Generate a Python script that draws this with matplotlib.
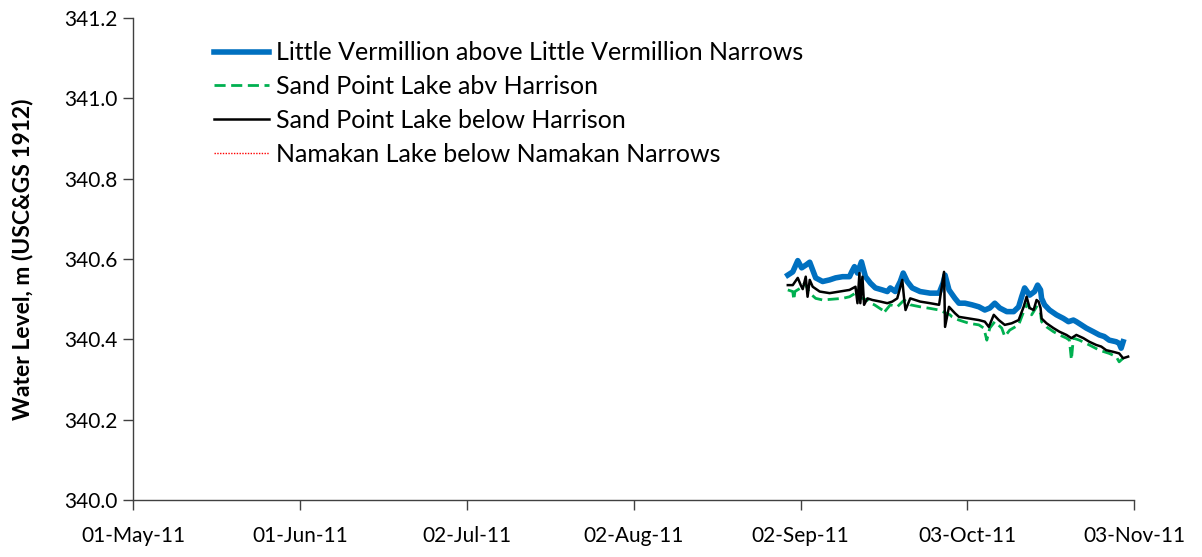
import matplotlib
matplotlib.use("Agg")
import matplotlib.pyplot as plt
import matplotlib.dates as mdates
import pandas as pd

plt.rcParams['font.family'] = ['Lato', 'DejaVu Sans']

base_date = "2011-08-31"

# Little Vermillion above Little Vermillion Narrows (day offset from 31-Aug-11, water level m)
lv_day = [-0.37, 0.55, 1.48, 2.2, 3.0, 3.70, 4.81, 6.10, 7.39, 8.50, 9.80, 11.09, 11.5, 12.01,
          12.57, 13.31, 14.05, 14.97, 15.90, 17.19, 18.11, 18.67, 19.59, 20.52, 21.07, 21.81,
          22.74, 24.21, 26.06, 27.73, 28.47, 28.84, 29.57, 30.68, 31.42, 32.53, 33.83, 35.12,
          36.23, 37.15, 38.08, 39.00, 40.30, 41.59, 42.51, 43.07, 43.62, 44.55, 45.47, 46.03,
          46.58, 46.77, 47.32, 48.24, 49.54, 50.83, 51.76, 52.68, 53.23, 54.16, 55.08, 56.38,
          57.49, 58.41, 59.33, 60.63, 61.18, 61.55, 61.92]
lv_val = [340.560, 340.568, 340.596, 340.578, 340.585, 340.592, 340.553, 340.544, 340.548,
          340.553, 340.556, 340.556, 340.568, 340.581, 340.565, 340.593, 340.556, 340.540,
          340.528, 340.523, 340.519, 340.528, 340.519, 340.544, 340.565, 340.544, 340.528,
          340.519, 340.515, 340.515, 340.540, 340.560, 340.523, 340.502, 340.490, 340.490,
          340.486, 340.481, 340.473, 340.478, 340.490, 340.478, 340.469, 340.469, 340.481,
          340.506, 340.528, 340.510, 340.519, 340.535, 340.523, 340.502, 340.486, 340.473,
          340.461, 340.452, 340.444, 340.448, 340.444, 340.436, 340.428, 340.419, 340.411,
          340.407, 340.398, 340.394, 340.390, 340.378, 340.394]

# Sand Point Lake abv Harrison
spa_day = [-0.37, 0.55, 0.75, 0.95, 2.03, 2.77, 3.70, 4.81, 6.10, 7.95, 9.80, 11.09, 12.20,
           13.49, 14.42, 14.97, 15.71, 17.19, 17.4, 18.67, 19.96, 21.26, 22.37, 24.21, 26.06,
           27.73, 29.76, 30.13, 30.68, 31.42, 33.27, 35.12, 36.04, 36.60, 37.15, 38.08, 39.37,
           39.93, 40.85, 42.51, 43.44, 44.18, 44.92, 45.84, 46.58, 46.77, 47.69, 48.98, 50.09,
           51.39, 51.94, 52.31, 52.68, 53.79, 55.64, 57.49, 59.33, 60.63, 61.18, 61.92]
spa_val = [340.523, 340.519, 340.498, 340.519, 340.528, 340.540, 340.515, 340.502, 340.498,
           340.500, 340.502, 340.506, 340.515, 340.502, 340.498, 340.490, 340.486, 340.473,
           340.465, 340.486, 340.481, 340.498, 340.486, 340.481, 340.477, 340.473, 340.461,
           340.456, 340.452, 340.448, 340.440, 340.436, 340.428, 340.398, 340.428, 340.444,
           340.428, 340.407, 340.423, 340.436, 340.469, 340.490, 340.461, 340.481, 340.465,
           340.444, 340.431, 340.419, 340.411, 340.403, 340.398, 340.349, 340.403, 340.398,
           340.386, 340.373, 340.365, 340.357, 340.344, 340.353]

# Sand Point Lake below Harrison
spb_day = [-0.37, 0.55, 1.48, 2.03, 2.4, 2.96, 3.3, 3.7, 4.25, 5.55, 7.39, 9.24, 11.09, 12.20,
           12.57, 12.94, 13.10, 13.49, 13.8, 14.42, 15.34, 16.82, 18.11, 19.04, 19.96, 20.89,
           21.26, 21.5, 22.37, 24.21, 26.06, 27.73, 28.65, 28.84, 29.57, 30.68, 31.42, 33.27,
           35.12, 36.23, 36.97, 37.89, 38.82, 39.93, 41.22, 42.51, 43.44, 43.99, 44.55, 45.29,
           45.84, 46.21, 46.58, 46.77, 47.69, 48.98, 50.09, 51.39, 52.31, 53.23, 54.53, 55.64,
           56.93, 57.86, 58.78, 60.07, 61.18, 61.92, 62.85]
spb_val = [340.535, 340.535, 340.553, 340.535, 340.525, 340.556, 340.506, 340.548, 340.531,
           340.519, 340.515, 340.519, 340.523, 340.531, 340.490, 340.565, 340.490, 340.556,
           340.486, 340.502, 340.498, 340.494, 340.490, 340.494, 340.502, 340.548, 340.498,
           340.473, 340.502, 340.494, 340.490, 340.486, 340.568, 340.431, 340.481, 340.465,
           340.456, 340.452, 340.448, 340.444, 340.431, 340.461, 340.448, 340.436, 340.440,
           340.448, 340.481, 340.506, 340.478, 340.473, 340.498, 340.494, 340.478, 340.452,
           340.440, 340.428, 340.419, 340.411, 340.403, 340.411, 340.403, 340.394, 340.386,
           340.382, 340.373, 340.369, 340.365, 340.353, 340.357]

# Namakan Lake below Namakan Narrows (no data shown in this period)
nam_day = []
nam_val = []

x_ticks = ["2011-05-01", "2011-06-01", "2011-07-02", "2011-08-02", "2011-09-02",
           "2011-10-03", "2011-11-03"]
y_ticks = [340.0, 340.2, 340.4, 340.6, 340.8, 341.0, 341.2]

labels = ["Little Vermillion above Little Vermillion Narrows",
          "Sand Point Lake abv Harrison",
          "Sand Point Lake below Harrison",
          "Namakan Lake below Namakan Narrows"]


def to_dates(days):
    return pd.Timestamp(base_date) + pd.to_timedelta(days, unit="D")


fig = plt.figure(figsize=(12.02, 5.57), dpi=100)
ax = fig.add_axes([0.1107, 0.1023, 0.833, 0.8654])

ax.plot(to_dates(lv_day), lv_val, color="#0070C0", lw=4.0, label=labels[0],
        solid_joinstyle="round", zorder=2)
ax.plot(to_dates(spa_day), spa_val, color="#00B050", lw=2.0, ls=(0, (4, 2)),
        label=labels[1], zorder=3)
ax.plot(to_dates(spb_day), spb_val, color="black", lw=1.8, label=labels[2], zorder=4)
ax.plot(to_dates(nam_day), nam_val, color="#FF0000", lw=1.0, ls=(0, (1, 1)),
        label=labels[3], zorder=5)

ax.set_xlim(pd.Timestamp(x_ticks[0]), pd.Timestamp(x_ticks[-1]))
ax.set_ylim(y_ticks[0], y_ticks[-1])
ax.set_xticks([pd.Timestamp(t) for t in x_ticks])
ax.xaxis.set_major_formatter(mdates.DateFormatter("%d-%b-%y"))
ax.set_yticks(y_ticks)
ax.set_yticklabels([f"{v:.1f}" for v in y_ticks])

for s in ["top", "right"]:
    ax.spines[s].set_visible(False)
for s in ["left", "bottom"]:
    ax.spines[s].set_color("#404040")
    ax.spines[s].set_linewidth(1.0)
ax.tick_params(axis="both", direction="out", length=7, width=1.0, color="#404040",
               labelsize=15, labelcolor="black")
ax.tick_params(axis="x", pad=12)
ax.tick_params(axis="y", pad=4)

ax.set_ylabel("Water Level, m (USC&GS 1912)", fontsize=16.5, fontweight="bold", labelpad=22)

leg = ax.legend(loc="upper left", bbox_to_anchor=(0.071, 0.972), frameon=False,
                fontsize=18, handlelength=2.2, handletextpad=0.28, labelspacing=0.43,
                borderaxespad=0)

fig.savefig("out.png", dpi=100)
